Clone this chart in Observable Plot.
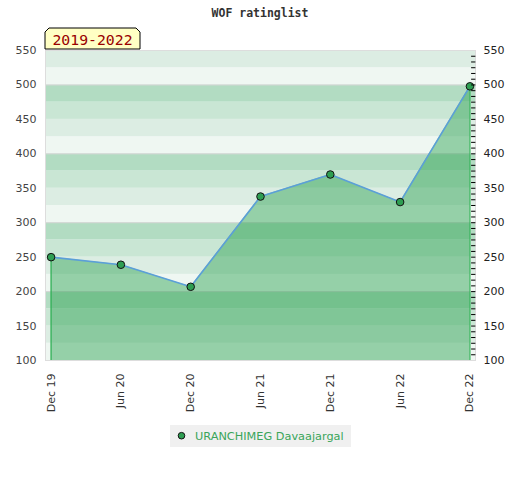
<!DOCTYPE html>
<html>
<head>
<meta charset="utf-8">
<script src="https://cdn.jsdelivr.net/npm/d3@7"></script>
<script src="https://cdn.jsdelivr.net/npm/@observablehq/plot@0.6"></script>
<style>
  html, body { margin: 0; padding: 0; background: #fff; }
  #chart svg { display: block; }
</style>
</head>
<body>
<div id="chart"></div>
<script>
// ---- data ----
const periods = ["Dec 19", "Jun 20", "Dec 20", "Jun 21", "Dec 21", "Jun 22", "Dec 22"];
const ratings = [250, 239, 207, 338, 370, 330, 498];
const playerName = "URANCHIMEG Davaajargal";
const chartTitle = "WOF ratinglist";
const periodLabel = "2019-2022";
const yTicks = [100, 150, 200, 250, 300, 350, 400, 450, 500, 550];
const yDomain = [100, 550];
const bandShades = ["#b2dcc2", "#c9e6d4", "#dcede3", "#eff7f2"]; // per 25 within each 100 (top to bottom)
const hundredLines = [200, 300, 400, 500];

const data = periods.map((p, i) => ({period: p, rating: ratings[i]}));
const ends = [data[0], data[data.length - 1]];

// background bands every 25 units
const bands = d3.range(yDomain[0], yDomain[1], 25).map(lo => {
  const hi = lo + 25;
  const idx = Math.floor(((Math.ceil(hi / 100) * 100) - hi) / 25); // 0 at top of each hundred
  return {lo, hi, fill: bandShades[idx]};
});
const minorTicks = d3.range(1, 54).map(i => yDomain[0] + i * (yDomain[1] - yDomain[0]) / 54);

const green = "#2e9e52";
const tickShape = {draw(ctx, l) { ctx.moveTo(0, 0); ctx.lineTo(0, -l); }};

const plot = Plot.plot({
  width: 520,
  height: 480,
  marginLeft: 45,
  marginRight: 45,
  marginTop: 50,
  marginBottom: 120,
  style: {fontFamily: "DejaVu Sans, sans-serif", fontSize: "11px", color: "#444", background: "#fff"},
  x: {type: "point", domain: periods, padding: 0.08, round: false, label: null},
  y: {domain: yDomain, label: null},
  marks: [
    Plot.rect(bands, {y1: "lo", y2: "hi", fill: "fill"}),
    Plot.ruleY(hundredLines, {stroke: "#d6d6d6", strokeWidth: 1}),
    Plot.areaY(data, {x: "period", y1: yDomain[0], y2: "rating", fill: "#279f4d", fillOpacity: 0.45}),
    Plot.line(data, {x: "period", y: "rating", stroke: "#5b9fd8", strokeWidth: 1.6}),
    Plot.ruleX(ends, {x: "period", y1: yDomain[0], y2: "rating", stroke: "#30b055", strokeWidth: 1.2}),
    Plot.dot(data, {x: "period", y: "rating", r: 3.8, fill: green, stroke: "#111", strokeWidth: 1}),
    Plot.frame({stroke: "#dddddd"}),
    Plot.vector(minorTicks, {y: d => d, frameAnchor: "right", length: 3.5, rotate: -90, anchor: "start", dx: -0.5, stroke: "#000", strokeWidth: 1, shape: tickShape}),
    Plot.axisY({anchor: "left", ticks: yTicks, tickSize: 0, tickPadding: 9, fill: "#444", label: null}),
    Plot.axisY({anchor: "right", ticks: yTicks, tickSize: 0, tickPadding: 8, fill: "#222", label: null}),
    Plot.axisX({anchor: "bottom", tickSize: 0, tickPadding: 13, tickRotate: -90, fill: "#333", label: null})
  ]
});

document.getElementById("chart").appendChild(plot);

const svg = d3.select(plot);

// title
svg.append("text")
  .attr("x", 260).attr("y", 17)
  .attr("text-anchor", "middle")
  .style("font-family", "DejaVu Sans Mono, monospace")
  .style("font-weight", "bold")
  .style("font-size", "11.5px")
  .attr("fill", "#333")
  .text(chartTitle);

// period tag box with chamfered top corners
const bx0 = 45, bx1 = 140, by0 = 28, by1 = 49, ch = 4;
svg.append("path")
  .attr("d", `M${bx0},${by1}L${bx0},${by0 + ch}L${bx0 + ch},${by0}L${bx1 - ch},${by0}L${bx1},${by0 + ch}L${bx1},${by1}Z`)
  .attr("fill", "#ffffc4")
  .attr("stroke", "#000")
  .attr("stroke-width", 1);
svg.append("text")
  .attr("x", (bx0 + bx1) / 2).attr("y", 45)
  .attr("text-anchor", "middle")
  .style("font-family", "DejaVu Sans Mono, monospace")
  .style("font-size", "14.8px")
  .attr("fill", "#990000")
  .text(periodLabel);

// legend
const lg = svg.append("g");
lg.append("rect").attr("x", 170).attr("y", 425).attr("width", 181).attr("height", 22).attr("fill", "#f0f0f0");
lg.append("circle").attr("cx", 181.5).attr("cy", 435.7).attr("r", 3.3).attr("fill", green).attr("stroke", "#111").attr("stroke-width", 1);
lg.append("text")
  .attr("x", 195).attr("y", 440.3)
  .attr("text-anchor", "start")
  .style("font-family", "DejaVu Sans, sans-serif")
  .style("font-size", "11.3px")
  .attr("fill", "#3aa55a")
  .text(playerName);
</script>
</body>
</html>
